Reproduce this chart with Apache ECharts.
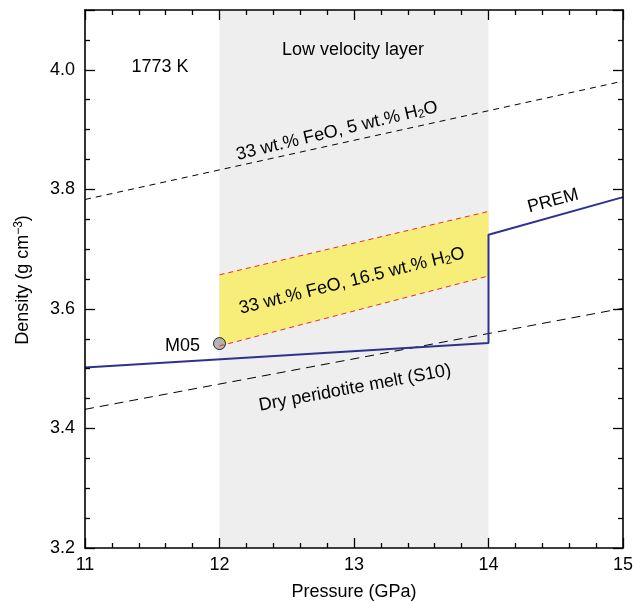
<!DOCTYPE html>
<html>
<head>
<meta charset="utf-8">
<script src="https://cdn.jsdelivr.net/npm/echarts@6/dist/echarts.min.js"></script>
<style>html,body{margin:0;padding:0;background:#fff;}#c{width:633px;height:601px;}</style>
</head>
<body>
<div id="c"></div>
<script>
// Data
const xTicks = [11, 12, 13, 14, 15];
const yTicks = [3.2, 3.4, 3.6, 3.8, 4.0];
const lowVelocityLayer = [12, 14];
const fe33h5X = [11, 15];
const fe33h5Y = [3.783, 3.981];
const dryMeltX = [11, 15];
const dryMeltY = [3.432, 3.601];
const bandX = [12, 14];
const bandUpper = [3.657, 3.763];
const bandLower = [3.538, 3.655];
const premX = [11, 14, 14, 15];
const premY = [3.502, 3.543, 3.724, 3.787];
const m05 = [12, 3.542];

const FONT = 'Liberation Sans, Arial, Helvetica, sans-serif';
const FS = 18;
const zip = (xs, ys) => xs.map((x, i) => [x, ys[i]]);

const chart = echarts.init(document.getElementById('c'));
const axisCommon = {
  type: 'value', z: 10,
  axisLine: { show: true, onZero: false, lineStyle: { color: '#000', width: 1.6 } },
  axisTick: { show: true, inside: true, length: 10, lineStyle: { color: '#000', width: 1.3 } },
  minorTick: { show: true, length: 5, lineStyle: { color: '#000', width: 1.3 } },
  splitLine: { show: false },
  minorSplitLine: { show: false }
};
const subRich = { sub: { fontSize: 12, verticalAlign: 'bottom', padding: [7, 0, 0, 0], fill: '#000', fontFamily: FONT } };
function txt(text, x, y, deg, extra) {
  return Object.assign({ type: 'text', z: 100, x: x, y: y, rotation: (deg || 0) * Math.PI / 180,
    style: { text: text, fontSize: FS, fontFamily: FONT, fill: '#000', align: 'center', verticalAlign: 'middle', rich: subRich } }, extra || {});
}
chart.setOption({
  animation: false,
  textStyle: { fontFamily: FONT },
  grid: { left: 85, right: 10, top: 10, bottom: 53, containLabel: false, outerBoundsMode: 'none' },
  xAxis: [
    Object.assign({}, axisCommon, {
      min: xTicks[0], max: xTicks[xTicks.length - 1], interval: 1,
      minorTick: Object.assign({}, axisCommon.minorTick, { splitNumber: 5 }),
      axisLabel: { color: '#000', fontSize: FS, margin: 8, fontFamily: FONT },
      name: 'Pressure (GPa)', nameLocation: 'middle', nameGap: 35,
      nameTextStyle: { color: '#000', fontSize: FS, fontFamily: FONT }
    }),
    Object.assign({}, axisCommon, {
      position: 'top', min: xTicks[0], max: xTicks[xTicks.length - 1], interval: 1,
      minorTick: Object.assign({}, axisCommon.minorTick, { splitNumber: 5 }),
      axisLabel: { show: false }
    })
  ],
  yAxis: [
    Object.assign({}, axisCommon, {
      min: yTicks[0], max: 4.1, interval: 0.2,
      minorTick: Object.assign({}, axisCommon.minorTick, { splitNumber: 4 }),
      axisLabel: { color: '#000', fontSize: FS, margin: 10, fontFamily: FONT,
        formatter: v => (Math.abs(v - 4.1) < 1e-6 ? '' : v.toFixed(1)) }
    }),
    Object.assign({}, axisCommon, {
      position: 'right', min: yTicks[0], max: 4.1, interval: 0.2,
      minorTick: Object.assign({}, axisCommon.minorTick, { splitNumber: 4 }),
      axisLabel: { show: false }
    })
  ],
  series: [
    {
      type: 'line', data: [], silent: true,
      markArea: { silent: true, itemStyle: { color: '#eeeeee' },
        data: [[{ xAxis: lowVelocityLayer[0] }, { xAxis: lowVelocityLayer[1] }]] }
    },
    {
      type: 'custom', silent: true,
      data: [0],
      renderItem: function (params, api) {
        const pts = [];
        bandX.forEach((x, i) => pts.push(api.coord([x, bandUpper[i]])));
        for (let i = bandX.length - 1; i >= 0; i--) pts.push(api.coord([bandX[i], bandLower[i]]));
        return { type: 'polygon', shape: { points: pts }, style: { fill: '#f6ee78' } };
      }
    },
    { type: 'line', data: zip(bandX, bandUpper), symbol: 'none',
      lineStyle: { color: '#e0302a', width: 1, type: [5, 4] } },
    { type: 'line', data: zip(bandX, bandLower), symbol: 'none',
      lineStyle: { color: '#e0302a', width: 1, type: [5, 4] } },
    { type: 'line', data: zip(fe33h5X, fe33h5Y), symbol: 'none',
      lineStyle: { color: '#000', width: 1, type: [6, 5] } },
    { type: 'line', data: zip(dryMeltX, dryMeltY), symbol: 'none',
      lineStyle: { color: '#000', width: 1, type: [9, 6] } },
    { type: 'line', data: zip(premX, premY), symbol: 'none',
      lineStyle: { color: '#2e3192', width: 2 } },
    { type: 'scatter', data: [m05], symbol: 'circle', symbolSize: 12,
      itemStyle: { color: '#a3a3a3', borderColor: '#000', borderWidth: 1 } }
  ],
  graphic: { elements: [
    { type: 'text', z: 100, x: 23, y: 280, rotation: Math.PI / 2,
      style: { text: 'Density (g cm{sup|−3})', fontSize: FS, fontFamily: FONT, fill: '#000', align: 'center', verticalAlign: 'middle',
        rich: { sup: { fontSize: 12, verticalAlign: 'top', padding: [0, 0, 9, 0], fill: '#000', fontFamily: FONT } } } },
    txt('1773 K', 160, 67),
    txt('Low velocity layer', 353, 50),
    txt('33 wt.% FeO, 5 wt.% H{sub|2}O', 337, 131, 13.5),
    txt('33 wt.% FeO, 16.5 wt.% H{sub|2}O', 352, 281, 14),
    txt('Dry peridotite melt (S10)', 355, 388, 10.5),
    txt('PREM', 553, 201, 15),
    { type: 'text', z: 100, x: 200, y: 346,
      style: { text: 'M05', fontSize: FS, fontFamily: FONT, fill: '#000', align: 'right', verticalAlign: 'middle' } }
  ] }
});
</script>
</body>
</html>
